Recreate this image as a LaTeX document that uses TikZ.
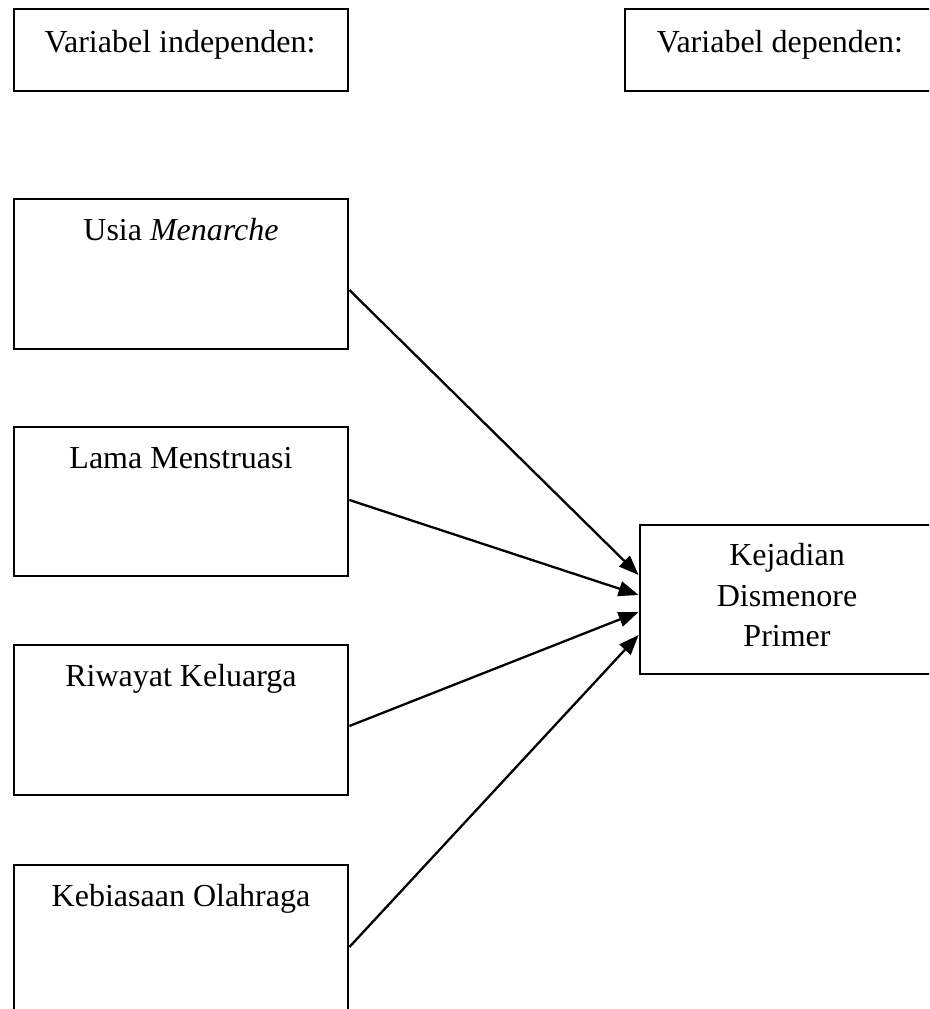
\documentclass[tikz,border=0pt]{standalone}
\usepackage{fontspec}
\setmainfont{Liberation Serif}
\usetikzlibrary{arrows.meta,calc}
\begin{document}
\begin{tikzpicture}[x=1pt,y=-1pt,
  box/.style={draw=black,line width=2.8pt,rectangle,inner sep=0pt,minimum width=334pt,minimum height=150pt},
  lbl/.style={anchor=base,inner sep=0pt,font=\fontsize{32}{40.5}\selectfont,align=center},
  conn/.style={line width=2.3pt,-{Triangle[length=20pt,width=15pt]}}]
\useasboundingbox (0,0) rectangle (929,1009);
\clip (0,0) rectangle (929,1009);
% header boxes
\node[box,minimum height=82pt] (ind) at (181,50) {};
\node[box,minimum width=310pt,minimum height=82pt] (dep) at (780,50) {};
\node[lbl] (indt) at (180,52) {Variabel independen:};
\node[lbl] (dept) at (780,52) {Variabel dependen:};
% independent variable boxes
\node[box] (u) at (181,274) {};
\node[box,minimum height=149pt] (l) at (181,501.5) {};
\node[box] (r) at (181,720) {};
\node[box] (kb) at (181,940) {};
\node[lbl] (ut) at (181,240) {Usia \textit{Menarche}};
\node[lbl] (lt) at (181,468) {Lama Menstruasi};
\node[lbl] (rt) at (181,686) {Riwayat Keluarga};
\node[lbl] (kbt) at (181,906) {Kebiasaan Olahraga};
% dependent box
\node[box,minimum width=294pt,minimum height=149pt] (k) at (787,599.5) {};
\node[lbl] (kt1) at (787,565) {Kejadian};
\node[lbl] (kt2) at (787,606) {Dismenore};
\node[lbl] (kt3) at (787,646) {Primer};
% connectors
\draw[conn] ($(u.east)+(0,16)$) -- ($(k.west)+(0,-24.5)$);
\draw[conn] ($(l.east)+(0,-1.5)$) -- ($(k.west)+(0,-4.5)$);
\draw[conn] ($(r.east)+(0,6)$) -- ($(k.west)+(0,12.5)$);
\draw[conn] ($(kb.east)+(0,7)$) -- ($(k.west)+(0,35.5)$);
\end{tikzpicture}
\end{document}
